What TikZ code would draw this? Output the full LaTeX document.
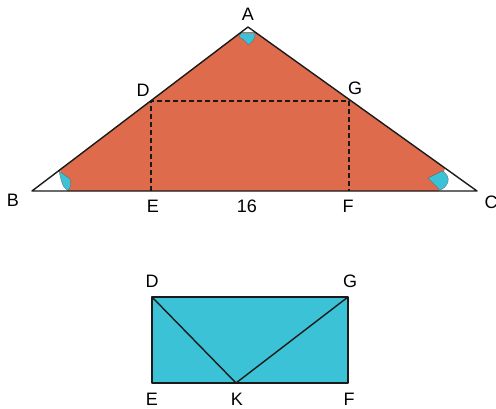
\documentclass[tikz,border=0pt]{standalone}
\usepackage{fontspec}
\setmainfont{Liberation Sans}
\usetikzlibrary{calc}
\definecolor{fdOrange}{HTML}{DD6B4C}
\definecolor{fdCyan}{HTML}{3CC2D6}
\definecolor{fdLine}{HTML}{1A1A1A}
\tikzset{
  fd-side/.style={draw=fdLine, line width=1.4pt, line join=round},
  fd-fold/.style={draw=fdLine, line width=1.3pt, dash pattern=on 5pt off 3pt},
  fd-mark/.style={fill=fdCyan, draw=fdLine!70, line width=0.3pt},
  fd-label/.style={font=\fontsize{18}{21}\selectfont, inner sep=0pt},
}

\begin{document}
\begin{tikzpicture}[x=1pt, y=-1pt]
  \useasboundingbox (0,0) rectangle (496,408);

  % top triangle
  \coordinate (A) at (248,27);
  \coordinate (B) at (32,191);
  \coordinate (C) at (477,191);
  \coordinate (D) at (151,101);
  \coordinate (G) at (349,101);
  \coordinate (E) at (151,191);
  \coordinate (F) at (349,191);

  % folded paper, corners tucked in
  \fill[fdOrange] (60,170) -- (241,32) -- (255,32) -- (445,168)
    -- (439,191) -- (68,191) -- cycle;

  % angle marks
  \path[fd-mark] (59,171) .. controls (61,180) and (62,184) .. (64,187)
    -- (68,191) .. controls (71,187) and (71,183) .. (70,179) -- cycle;
  \path[fd-mark] (241,33) -- (255,33) .. controls (256,39) and (251,43) .. (248,45)
    .. controls (246,41) and (243,39) .. (239,37) -- cycle;
  \path[fd-mark] (440,190) -- (428,178) -- (442,171)
    .. controls (447,173) and (449,178) .. (448,182)
    .. controls (446,187) and (443,189) .. (440,190) -- cycle;

  \draw[fd-fold] (E) -- (D) -- (G) -- (F);
  \draw[fd-side] (B) -- (A) -- (C) -- cycle;

  \node[fd-label] (lA) at (248,14) {A};
  \node[fd-label] (lB) at (13,200) {B};
  \node[fd-label] (lC) at (491,202) {C};
  \node[fd-label] (lD) at (143,90) {D};
  \node[fd-label] (lG) at (355,88) {G};
  \node[fd-label] (lE) at (153,206) {E};
  \node[fd-label] (l16) at (247,206) {16};
  \node[fd-label] (lF) at (348,206) {F};

  % rectangle after folding
  \coordinate (D2) at (152,297);
  \coordinate (G2) at (348,297);
  \coordinate (E2) at (152,383);
  \coordinate (F2) at (348,383);
  \coordinate (K) at (236,383);

  \filldraw[fill=fdCyan, fd-side] (D2) -- (G2) -- (F2) -- (E2) -- cycle;
  \draw[fd-side] (D2) -- (K) -- (G2);

  \node[fd-label] (lD2) at (152,281) {D};
  \node[fd-label] (lG2) at (350,281) {G};
  \node[fd-label] (lE2) at (152,399) {E};
  \node[fd-label] (lK) at (237,399) {K};
  \node[fd-label] (lF2) at (349,399) {F};
\end{tikzpicture}
\end{document}
